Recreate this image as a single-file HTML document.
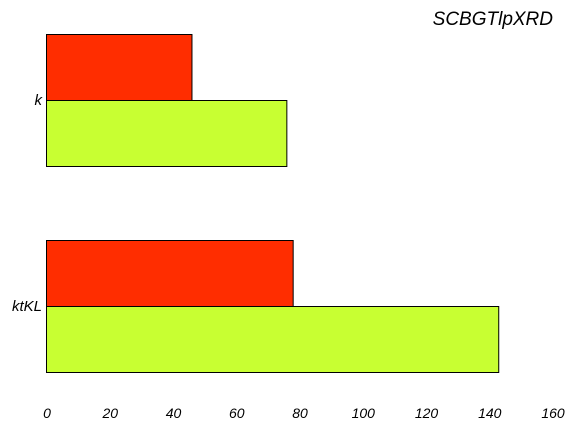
<!DOCTYPE html>
<html><head><meta charset="utf-8"><style>
body{margin:0;background:#fff}
svg{display:block;font-family:"Liberation Sans",sans-serif;font-style:italic}
</style></head><body>
<svg width="576" height="432">
<text x="553" y="25" font-size="19" text-anchor="end">SCBGTlpXRD</text>
<g id="bars"></g>
<g id="ticks"></g>
<g id="cats"></g>
</svg>
<script>
const categories=["k","ktKL"];
const seriesRed=[46,78];
const seriesGreen=[76,143];
const tickLabels=[0,20,40,60,80,100,120,140,160];
const x=v=>46.5+v*(553-47)/160;
const bandTop=[34,240];
const bh=66;
const ns="http://www.w3.org/2000/svg";
const bars=document.getElementById('bars');
function rect(xv,y,fill,name){
  const r=document.createElementNS(ns,'rect');
  r.setAttribute('x',x(0));r.setAttribute('y',y);
  r.setAttribute('width',x(xv)-x(0));r.setAttribute('height',bh);
  r.setAttribute('fill',fill);r.setAttribute('stroke','#000');r.setAttribute('stroke-width','1');
  
  
  bars.appendChild(r);
}
categories.forEach((c,i)=>{
  rect(seriesRed[i],bandTop[i]+0.5,'#ff2d00','bar-red-'+c);
  rect(seriesGreen[i],bandTop[i]+bh+0.5,'#c8ff32','bar-green-'+c);
  const t=document.createElementNS(ns,'text');
  t.setAttribute('x',42);t.setAttribute('y',bandTop[i]+bh+5);
  t.setAttribute('font-size','15');t.setAttribute('text-anchor','end');
  t.textContent=c;
  
  
  document.getElementById('cats').appendChild(t);
});
tickLabels.forEach(v=>{
  const t=document.createElementNS(ns,'text');
  t.setAttribute('x',x(v)+0.5);t.setAttribute('y',418);
  t.setAttribute('font-size','14');t.setAttribute('text-anchor','middle');
  t.textContent=v;
  
  
  document.getElementById('ticks').appendChild(t);
});
</script>
</body></html>
